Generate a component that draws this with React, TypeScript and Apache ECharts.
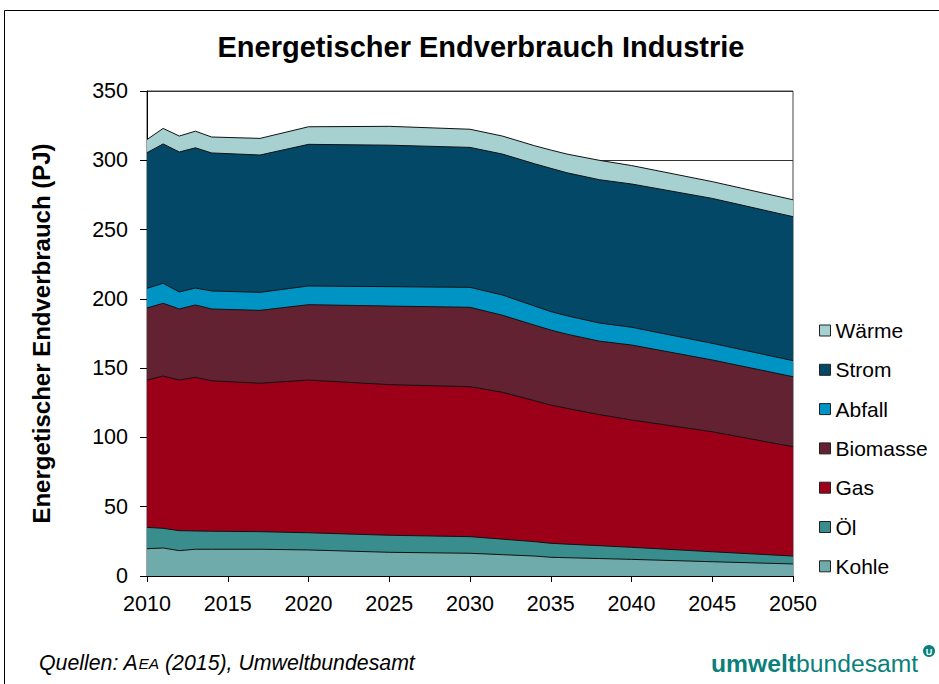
import React, { useEffect, useRef } from "react";
import * as echarts from "echarts";

const years = [2010, 2011, 2012, 2013, 2014, 2017, 2020, 2025, 2030, 2032, 2034, 2035, 2036, 2038, 2040, 2045, 2050];
const kohle = [19.7, 20.2, 18.3, 19.3, 19.3, 19.3, 18.8, 17.1, 16.4, 15.4, 14.4, 13.5, 13.2, 12.6, 12.0, 10.3, 8.7];
const oel = [15.4, 14.2, 14.4, 13.2, 13.0, 12.7, 12.4, 12.3, 12.0, 11.2, 10.4, 10.1, 9.8, 9.3, 8.7, 7.2, 5.7];
const gas = [106.3, 109.9, 108.7, 110.9, 108.6, 107.1, 110.2, 108.7, 108.2, 106.0, 101.7, 99.8, 98.0, 94.6, 91.9, 86.6, 78.9];
const biomasse = [52.0, 52.5, 51.3, 52.2, 51.8, 52.6, 54.4, 56.7, 57.3, 55.6, 54.5, 54.1, 53.5, 53.0, 54.1, 51.8, 50.5];
const abfall = [14.2, 14.4, 12.3, 12.2, 13.0, 13.0, 13.5, 14.0, 14.4, 14.6, 13.8, 13.3, 13.3, 13.1, 12.8, 12.0, 11.6];
const strom = [97.9, 100.6, 101.0, 101.2, 99.6, 99.1, 102.2, 102.1, 101.0, 101.7, 102.7, 103.4, 103.2, 103.4, 103.4, 104.6, 103.9];
const waerme = [9.5, 11.2, 11.5, 12.0, 11.5, 12.0, 12.7, 13.6, 13.1, 13.0, 13.0, 13.2, 13.5, 14.0, 13.3, 12.1, 12.2];

// bottom to top
const seriesNames = ["Kohle", "Öl", "Gas", "Biomasse", "Abfall", "Strom", "Wärme"];
const seriesValues = [kohle, oel, gas, biomasse, abfall, strom, waerme];
const seriesColors = ["#70abab", "#398d8c", "#9c0019", "#622231", "#0094c5", "#034866", "#a7d0d1"];
const legendOrder = ["Wärme", "Strom", "Abfall", "Biomasse", "Gas", "Öl", "Kohle"];
const yTicks = { min: 0, max: 350, step: 50 };
const xTicks = { min: 2010, max: 2050, step: 5 };

const titleText = "Energetischer Endverbrauch Industrie";
const yAxisTitle = "Energetischer Endverbrauch (PJ)";

const FONT = "'Liberation Sans', Arial, Helvetica, sans-serif";
const UBA = "#0b7f7c";

export default function App() {
  const ref = useRef<HTMLDivElement>(null);
  useEffect(() => {
    if (!ref.current) return;
    const chart = echarts.init(ref.current, null, { renderer: "svg" });

    // cumulative stacking (each area filled down to zero, upper layers drawn first)
    const cumulative: number[][] = [];
    seriesValues.forEach((vals, i) => {
      cumulative.push(vals.map((v, j) => +(v + (i > 0 ? cumulative[i - 1][j] : 0)).toFixed(2)));
    });
    const series = seriesNames
      .map((name, i) => ({
        name,
        type: "line",
        symbol: "none",
        data: years.map((y, j) => [y, cumulative[i][j]]),
        lineStyle: { color: "#111", width: 1 },
        itemStyle: { color: seriesColors[i] },
        areaStyle: { color: seriesColors[i], opacity: 1, origin: "start" },
        emphasis: { disabled: true },
      }))
      .reverse();

    chart.setOption({
      animation: false,
      backgroundColor: "#fff",
      textStyle: { fontFamily: FONT },
      title: {
        text: titleText,
        left: 481,
        top: 32,
        textAlign: "center",
        padding: 0,
        textStyle: { fontFamily: FONT, fontSize: 29, fontWeight: "bold", color: "#000" },
      },
      grid: {
        left: 147,
        right: 146,
        top: 91,
        bottom: 108,
        show: true,
        borderColor: "#444",
        borderWidth: 1,
        backgroundColor: "transparent",
      },
      legend: {
        orient: "vertical",
        left: 819,
        top: 320,
        padding: 0,
        itemWidth: 11,
        itemHeight: 11,
        itemGap: 18.3,
        icon: "rect",
        data: legendOrder,
        itemStyle: { borderColor: "#222", borderWidth: 1 },
        textStyle: { fontFamily: FONT, fontSize: 21, color: "#000", lineHeight: 20, padding: [0, 0, 0, 0] },
        selectedMode: false,
      },
      xAxis: {
        type: "value",
        min: xTicks.min,
        max: xTicks.max,
        interval: xTicks.step,
        axisLine: { show: true, lineStyle: { color: "#000", width: 1 } },
        axisTick: { show: true, length: 6, lineStyle: { color: "#000" } },
        axisLabel: { fontFamily: FONT, fontSize: 21.5, color: "#000", margin: 17, formatter: (v: number) => String(v) },
        splitLine: { show: false },
      },
      yAxis: {
        type: "value",
        min: yTicks.min,
        max: yTicks.max,
        interval: yTicks.step,
        name: yAxisTitle,
        nameLocation: "middle",
        nameRotate: 90,
        nameGap: 94,
        nameTextStyle: { fontFamily: FONT, fontSize: 24, fontWeight: "bold", color: "#000" },
        axisLine: { show: true, lineStyle: { color: "#000", width: 1 } },
        axisTick: { show: true, inside: false, length: 7, lineStyle: { color: "#000" } },
        axisLabel: { fontFamily: FONT, fontSize: 21.5, color: "#000", margin: 19 },
        splitLine: { show: true, lineStyle: { color: "#333", width: 1 } },
      },
      series,
      graphic: [
        {
          type: "rect",
          silent: true,
          shape: { x: 4.5, y: 10.5, width: 1000, height: 1000 },
          style: { fill: "none", stroke: "#000", lineWidth: 1 },
        },
        {
          type: "text",
          silent: true,
          x: 39,
          y: 663,
          style: {
            text: "{n|Quellen: A}{s|EA}{n| (2015), Umweltbundesamt}",
            verticalAlign: "middle",
            rich: {
              n: { fontFamily: FONT, fontSize: 21.3, fontStyle: "italic", fill: "#000" },
              s: { fontFamily: FONT, fontSize: 15.5, fontStyle: "italic", fill: "#000" },
            },
          },
        },
        {
          type: "text",
          silent: true,
          x: 711,
          y: 663,
          style: {
            text: "{b|umwelt}{r|bundesamt}",
            verticalAlign: "middle",
            rich: {
              b: { fontFamily: FONT, fontSize: 24.7, fontWeight: "bold", fill: UBA },
              r: { fontFamily: FONT, fontSize: 24.7, fill: UBA },
            },
          },
        },
        {
          type: "circle",
          silent: true,
          shape: { cx: 929, cy: 651, r: 6 },
          style: { fill: UBA },
        },
        {
          type: "text",
          silent: true,
          x: 929,
          y: 651.5,
          style: {
            text: "U",
            align: "center",
            verticalAlign: "middle",
            fontFamily: FONT,
            fontSize: 9,
            fontWeight: "bold",
            fill: "#fff",
          },
        },
      ],
    });
    return () => chart.dispose();
  }, []);
  return (
    <div
      ref={ref}
      style={{ position: "fixed", left: 0, top: 0, width: 939, height: 684 }}
    />
  );
}
